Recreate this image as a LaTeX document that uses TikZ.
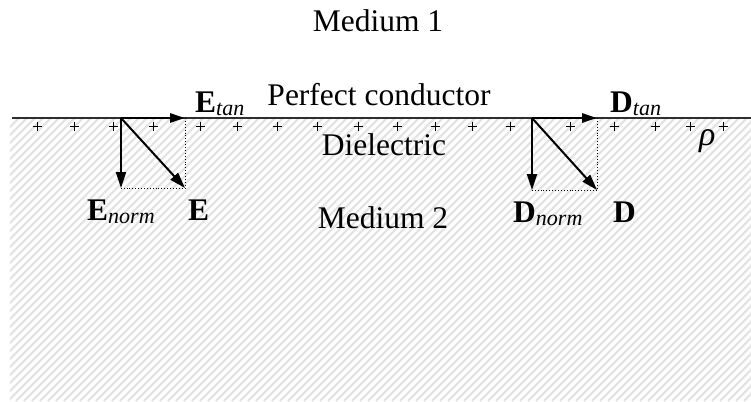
\documentclass[tikz,border=0pt]{standalone}
\usepackage{fontspec}
\setmainfont{Liberation Serif}
\usetikzlibrary{arrows.meta}
\definecolor{HatchGray}{HTML}{E4E4E4}
\definecolor{EdgeGray}{HTML}{2E2E2E}
\newcommand{\fieldsub}[2]{\textbf{#1}\raisebox{-3pt}{\fontsize{22}{22}\selectfont\itshape #2}}
\tikzset{
  medlabel/.style={font=\fontsize{31.5}{36}\selectfont,inner sep=0pt,anchor=base},
  veclabel/.style={font=\fontsize{31.5}{36}\selectfont,inner sep=0pt,anchor=base west},
  hatchline/.style={draw=HatchGray,line width=2.3pt},
  surfline/.style={draw=EdgeGray,line width=1.3pt},
  chargemark/.style={draw=black,line width=0.9pt},
  tanarrow/.style={-{Triangle[length=15pt,width=9pt]},line width=2.8pt},
  normarrow/.style={-{Triangle[length=16pt,width=10pt]},line width=2pt},
  projline/.style={dotted,line width=0.9pt}
}

\begin{document}
\begin{tikzpicture}[x=1pt,y=-1pt]
\useasboundingbox (0,0) rectangle (751,401);
% Dielectric region (hatched)
\begin{scope}
\clip (10,119) rectangle (751,401);
\foreach \a in {-280,-272,...,755}
  \draw[hatchline] (\a,401) -- (\a+283,118);
\end{scope}

% Surface charges
\foreach \px in {37,74,113,153,200,237,277,317,358,397,435,472,510,570,614,655,690,723}
  \draw[chargemark] (\px-4.5,126) -- (\px+4.5,126) (\px,121.5) -- (\px,130.5);
\draw[surfline] (12,118) -- (751,118);

% Field vectors
\coordinate (Eo) at (121,118);
\coordinate (Et) at (185,118);
\coordinate (En) at (121,188);
\coordinate (Ed) at (185,188);
\coordinate (Do) at (532,118);
\coordinate (Dt) at (597,118);
\coordinate (Dn) at (532,190);
\coordinate (Dd) at (597,190);
\draw[projline] (Et) -- (Ed) -- (En);
\draw[projline] (Dt) -- (Dd) -- (Dn);
\draw[tanarrow] (Eo) -- (Et);
\draw[normarrow] (Eo) -- (En);
\draw[normarrow] (Eo) -- (Ed);
\draw[tanarrow] (Do) -- (Dt);
\draw[normarrow] (Do) -- (Dn);
\draw[normarrow] (Do) -- (Dd);

% Labels
\node[medlabel] (med1) at (378,32) {Medium 1};
\node[medlabel] (cond) at (379,106) {Perfect conductor};
\node[medlabel] (diel) at (384,155) {Dielectric};
\node[medlabel] (med2) at (383,228) {Medium 2};
\node[veclabel] (etan) at (195,112) {\fieldsub{E}{tan}};
\node[veclabel] (enorm) at (87,220) {\fieldsub{E}{norm}};
\node[veclabel] (evec) at (188,220) {\textbf{E}};
\node[veclabel] (dtan) at (610,112) {\fieldsub{D}{tan}};
\node[veclabel] (dnorm) at (513,222) {\fieldsub{D}{norm}};
\node[veclabel] (dvec) at (613,222) {\textbf{D}};
\node[veclabel,font=\fontsize{34}{38}\selectfont] (rho) at (699,145) {\textit{ρ}};
\end{tikzpicture}
\end{document}
